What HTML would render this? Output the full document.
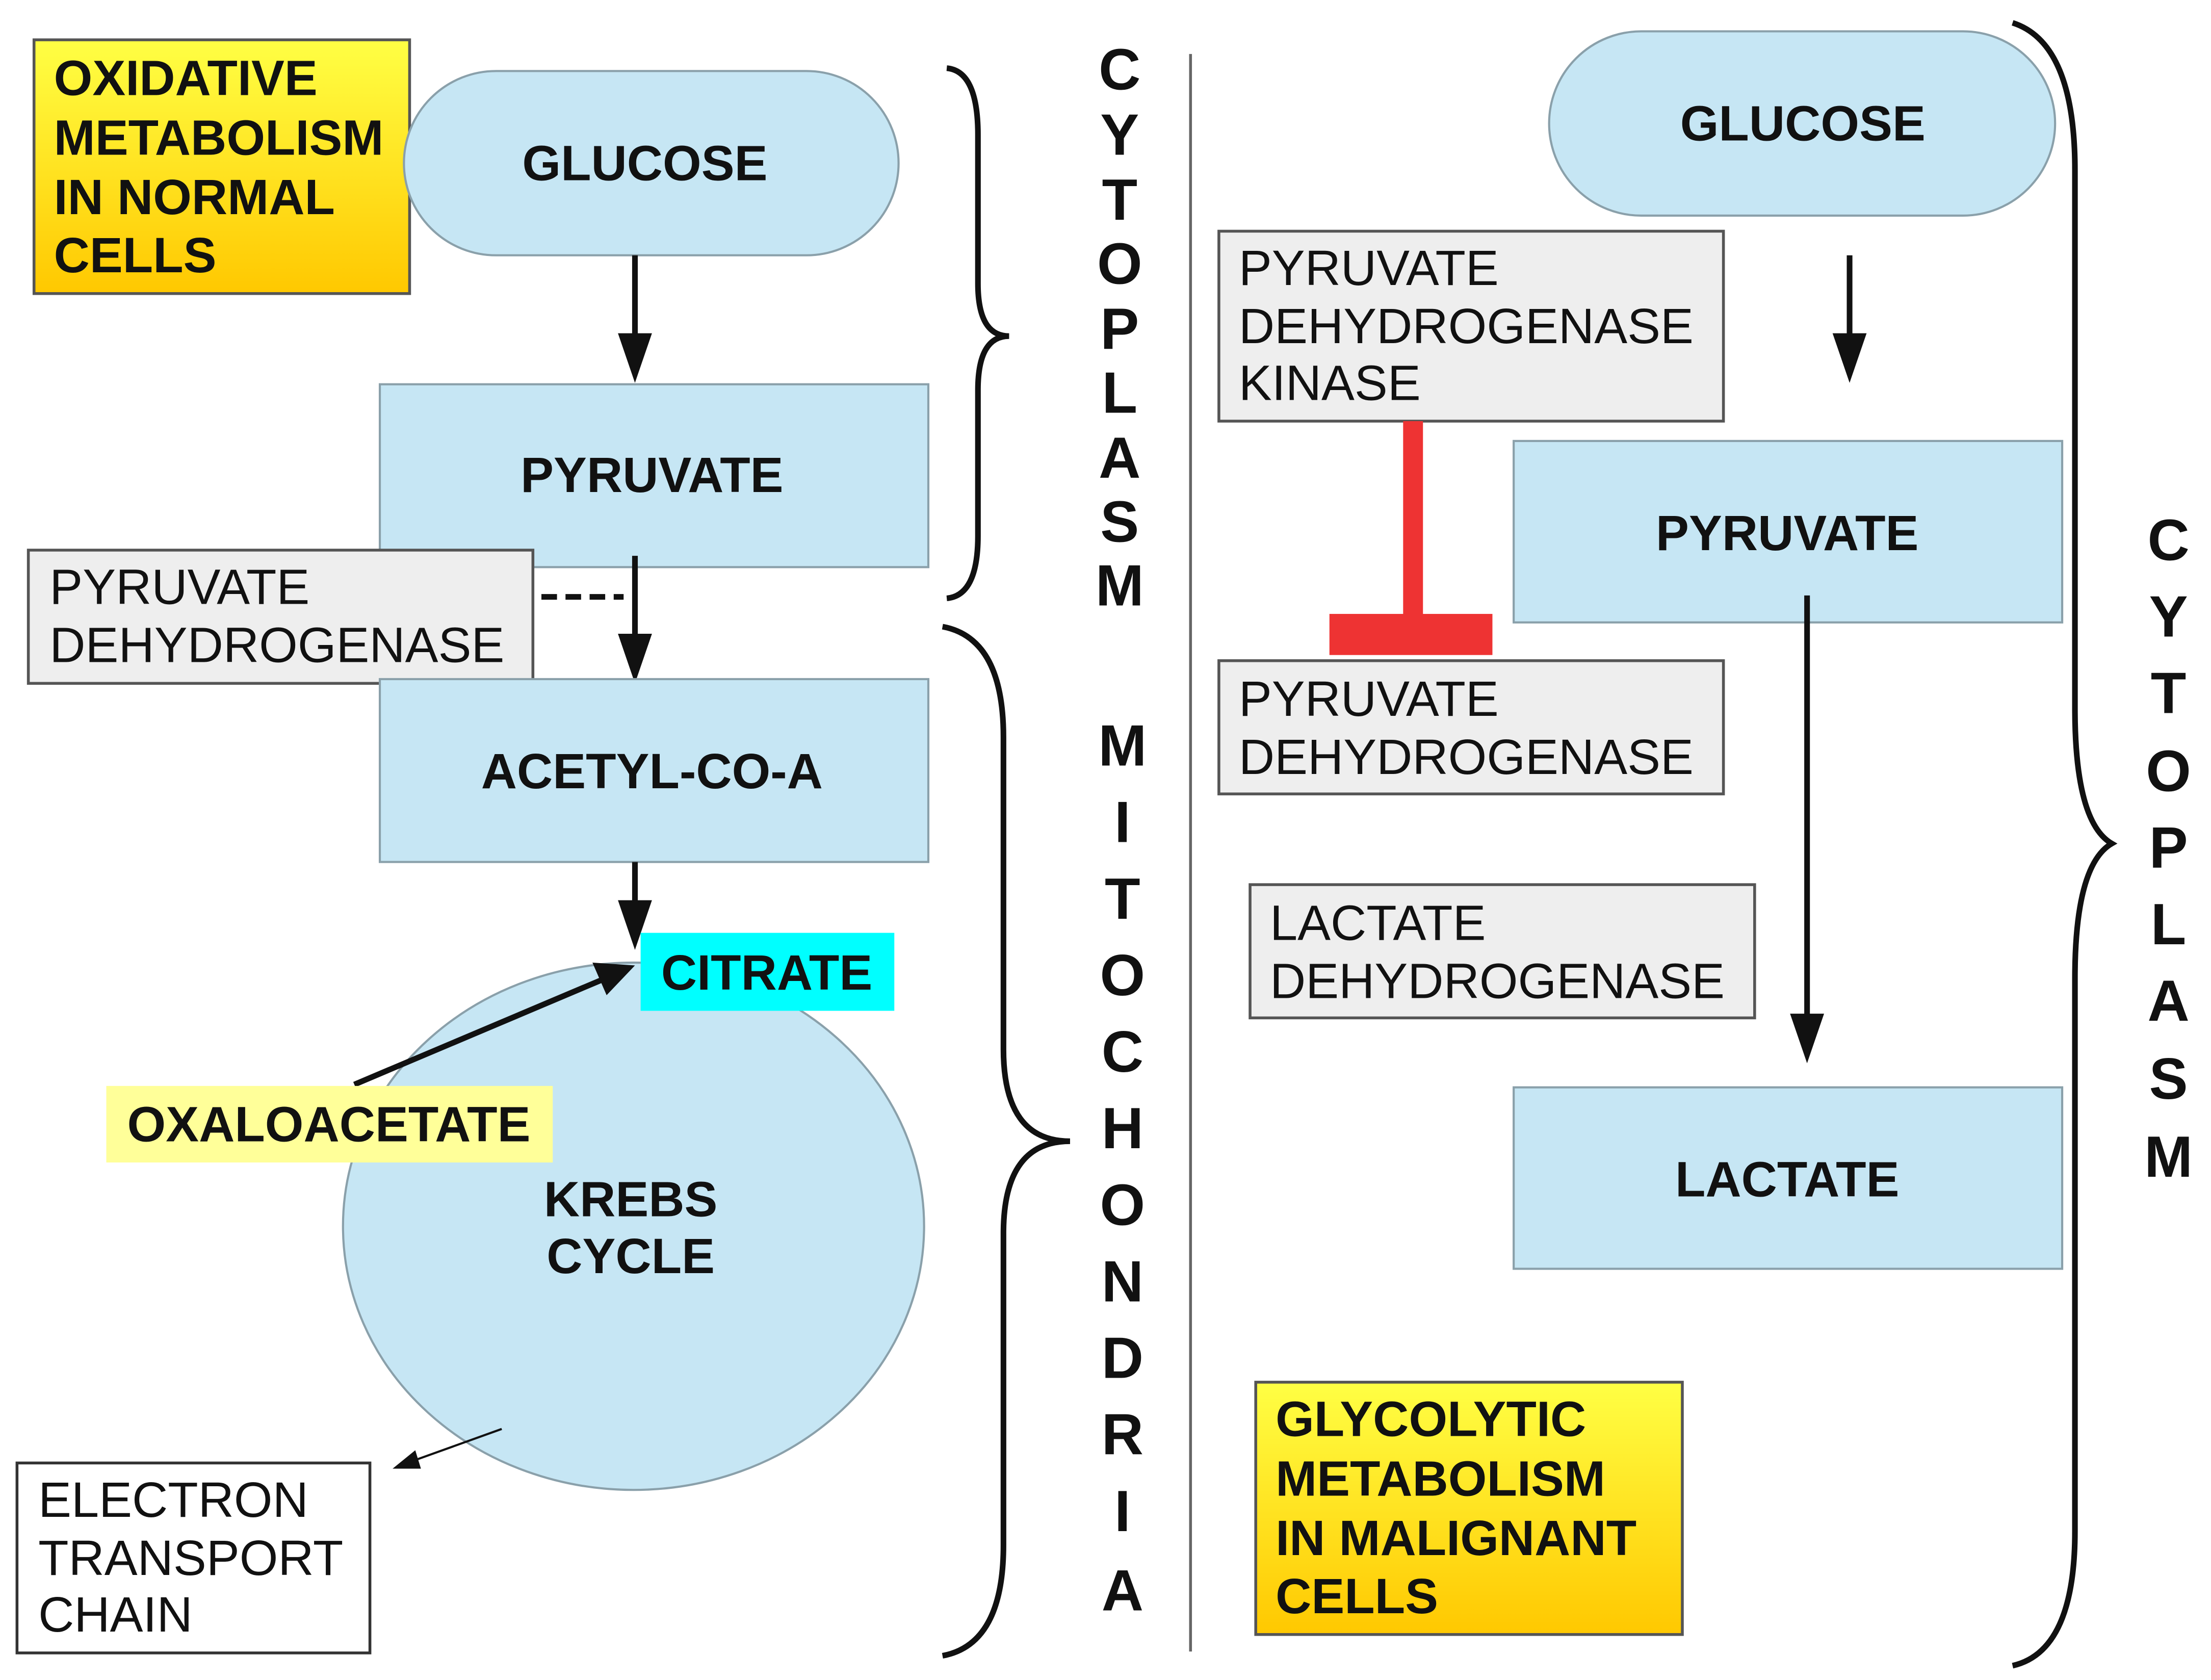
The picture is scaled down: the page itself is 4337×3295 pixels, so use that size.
<!DOCTYPE html>
<html><head><meta charset="utf-8"><style>
html,body{margin:0;padding:0;background:#fff;}
svg{display:block;}
text{font-family:"Liberation Sans",Arial,sans-serif;}
.b{font-weight:bold;font-size:35px;fill:#111;}
.n{font-size:35px;fill:#111;}
.v{font-weight:bold;font-size:41px;fill:#111;text-anchor:middle;}
.blue{fill:#c6e6f4;stroke:#8aa0aa;stroke-width:1.5;}
.gray{fill:#eeeeee;stroke:#555;stroke-width:2;}
</style></head><body>
<svg width="4337" height="3295" viewBox="0 0 1560 1185" xmlns="http://www.w3.org/2000/svg">
<defs>
<linearGradient id="yg" x1="0" y1="0" x2="0" y2="1">
<stop offset="0" stop-color="#ffff44"/><stop offset="1" stop-color="#ffc800"/></linearGradient>
</defs>
<rect width="1560" height="1185" fill="#fff"/>
<!-- LEFT -->
<rect x="24" y="28" width="265" height="179" fill="url(#yg)" stroke="#555" stroke-width="2"/>
<text class="b" x="38" y="67">OXIDATIVE</text>
<text class="b" x="38" y="109">METABOLISM</text>
<text class="b" x="38" y="151">IN NORMAL</text>
<text class="b" x="38" y="192">CELLS</text>
<rect class="blue" x="285" y="50" width="349" height="130" rx="65"/>
<text class="b" x="455" y="127" text-anchor="middle">GLUCOSE</text>
<line x1="448" y1="180" x2="448" y2="240" stroke="#111" stroke-width="4"/>
<polygon points="436,235 460,235 448,270" fill="#111"/>
<rect class="blue" x="268" y="271" width="387" height="129"/>
<text class="b" x="460" y="347" text-anchor="middle">PYRUVATE</text>
<rect class="gray" x="20" y="388" width="356" height="94"/>
<text class="n" x="35" y="426">PYRUVATE</text>
<text class="n" x="35" y="467">DEHYDROGENASE</text>
<line x1="382" y1="421" x2="440" y2="421" stroke="#111" stroke-width="4" stroke-dasharray="11,6"/>
<line x1="448" y1="392" x2="448" y2="452" stroke="#111" stroke-width="4"/>
<polygon points="436,447 460,447 448,482" fill="#111"/>
<rect class="blue" x="268" y="479" width="387" height="129"/>
<text class="b" x="460" y="556" text-anchor="middle">ACETYL-CO-A</text>
<ellipse class="blue" cx="447" cy="865" rx="205" ry="186"/>
<line x1="448" y1="608" x2="448" y2="640" stroke="#111" stroke-width="4"/>
<polygon points="436,635 460,635 448,670" fill="#111"/>
<rect x="452" y="658" width="179" height="55" fill="#00ffff"/>
<text class="b" x="541" y="698" text-anchor="middle">CITRATE</text>
<line x1="250" y1="765" x2="425" y2="691" stroke="#111" stroke-width="4"/>
<polygon points="448,681 418,679 428,702" fill="#111"/>
<rect x="75" y="766" width="315" height="54" fill="#ffff99"/>
<text class="b" x="232" y="805" text-anchor="middle">OXALOACETATE</text>
<text class="b" x="445" y="858" text-anchor="middle">KREBS</text>
<text class="b" x="445" y="898" text-anchor="middle">CYCLE</text>
<line x1="354" y1="1008" x2="290" y2="1031" stroke="#111" stroke-width="1.5"/>
<polygon points="277,1036 293,1023 297,1036" fill="#111"/>
<rect x="12" y="1032" width="249" height="134" fill="#fff" stroke="#333" stroke-width="2"/>
<text class="n" x="27" y="1070">ELECTRON</text>
<text class="n" x="27" y="1111">TRANSPORT</text>
<text class="n" x="27" y="1151">CHAIN</text>
<!-- braces -->
<path d="M668,48 Q690,50 690,95 L690,200 Q690,237 712,237 Q690,237 690,275 L690,378 Q690,420 668,422" fill="none" stroke="#111" stroke-width="4"/>
<path d="M665,442 Q708,450 708,520 L708,740 Q708,805 755,805 Q708,805 708,870 L708,1090 Q708,1160 665,1168" fill="none" stroke="#111" stroke-width="4"/>
<text class="v" x="790" y="63">C</text><text class="v" x="790" y="109">Y</text><text class="v" x="790" y="155">T</text><text class="v" x="790" y="200">O</text><text class="v" x="790" y="246">P</text><text class="v" x="790" y="291">L</text><text class="v" x="790" y="337">A</text><text class="v" x="790" y="382">S</text><text class="v" x="790" y="427">M</text>
<text class="v" x="792" y="540">M</text><text class="v" x="792" y="594">I</text><text class="v" x="792" y="648">T</text><text class="v" x="792" y="702">O</text><text class="v" x="792" y="756">C</text><text class="v" x="792" y="810">H</text><text class="v" x="792" y="864">O</text><text class="v" x="792" y="918">N</text><text class="v" x="792" y="972">D</text><text class="v" x="792" y="1026">R</text><text class="v" x="792" y="1080">I</text><text class="v" x="792" y="1136">A</text>
<line x1="840" y1="38" x2="840" y2="1165" stroke="#666" stroke-width="2"/>
<!-- RIGHT -->
<rect class="blue" x="1093" y="22" width="357" height="130" rx="65"/>
<text class="b" x="1272" y="99" text-anchor="middle">GLUCOSE</text>
<line x1="1305" y1="180" x2="1305" y2="240" stroke="#111" stroke-width="4"/>
<polygon points="1293,235 1317,235 1305,270" fill="#111"/>
<rect class="gray" x="860" y="163" width="356" height="134"/>
<text class="n" x="874" y="201">PYRUVATE</text>
<text class="n" x="874" y="242">DEHYDROGENASE</text>
<text class="n" x="874" y="282">KINASE</text>
<rect x="990" y="297" width="14" height="138" fill="#ee3333"/>
<rect x="938" y="433" width="115" height="29" fill="#ee3333"/>
<rect class="gray" x="860" y="466" width="356" height="94"/>
<text class="n" x="874" y="505">PYRUVATE</text>
<text class="n" x="874" y="546">DEHYDROGENASE</text>
<rect class="blue" x="1068" y="311" width="387" height="128"/>
<text class="b" x="1261" y="388" text-anchor="middle">PYRUVATE</text>
<line x1="1275" y1="420" x2="1275" y2="720" stroke="#111" stroke-width="4"/>
<polygon points="1263,715 1287,715 1275,750" fill="#111"/>
<rect class="gray" x="882" y="624" width="356" height="94"/>
<text class="n" x="896" y="663">LACTATE</text>
<text class="n" x="896" y="704">DEHYDROGENASE</text>
<rect class="blue" x="1068" y="767" width="387" height="128"/>
<text class="b" x="1261" y="844" text-anchor="middle">LACTATE</text>
<rect x="886" y="975" width="301" height="178" fill="url(#yg)" stroke="#555" stroke-width="2"/>
<text class="b" x="900" y="1013">GLYCOLYTIC</text>
<text class="b" x="900" y="1055">METABOLISM</text>
<text class="b" x="900" y="1097">IN MALIGNANT</text>
<text class="b" x="900" y="1138">CELLS</text>
<path d="M1420,16 Q1464,30 1464,120 L1464,500 Q1464,580 1490,595 Q1464,610 1464,690 L1464,1080 Q1464,1165 1420,1175" fill="none" stroke="#111" stroke-width="4"/>
<text class="v" x="1530" y="395">C</text><text class="v" x="1530" y="449">Y</text><text class="v" x="1530" y="503">T</text><text class="v" x="1530" y="558">O</text><text class="v" x="1530" y="612">P</text><text class="v" x="1530" y="666">L</text><text class="v" x="1530" y="720">A</text><text class="v" x="1530" y="775">S</text><text class="v" x="1530" y="830">M</text>
</svg>
</body></html>
